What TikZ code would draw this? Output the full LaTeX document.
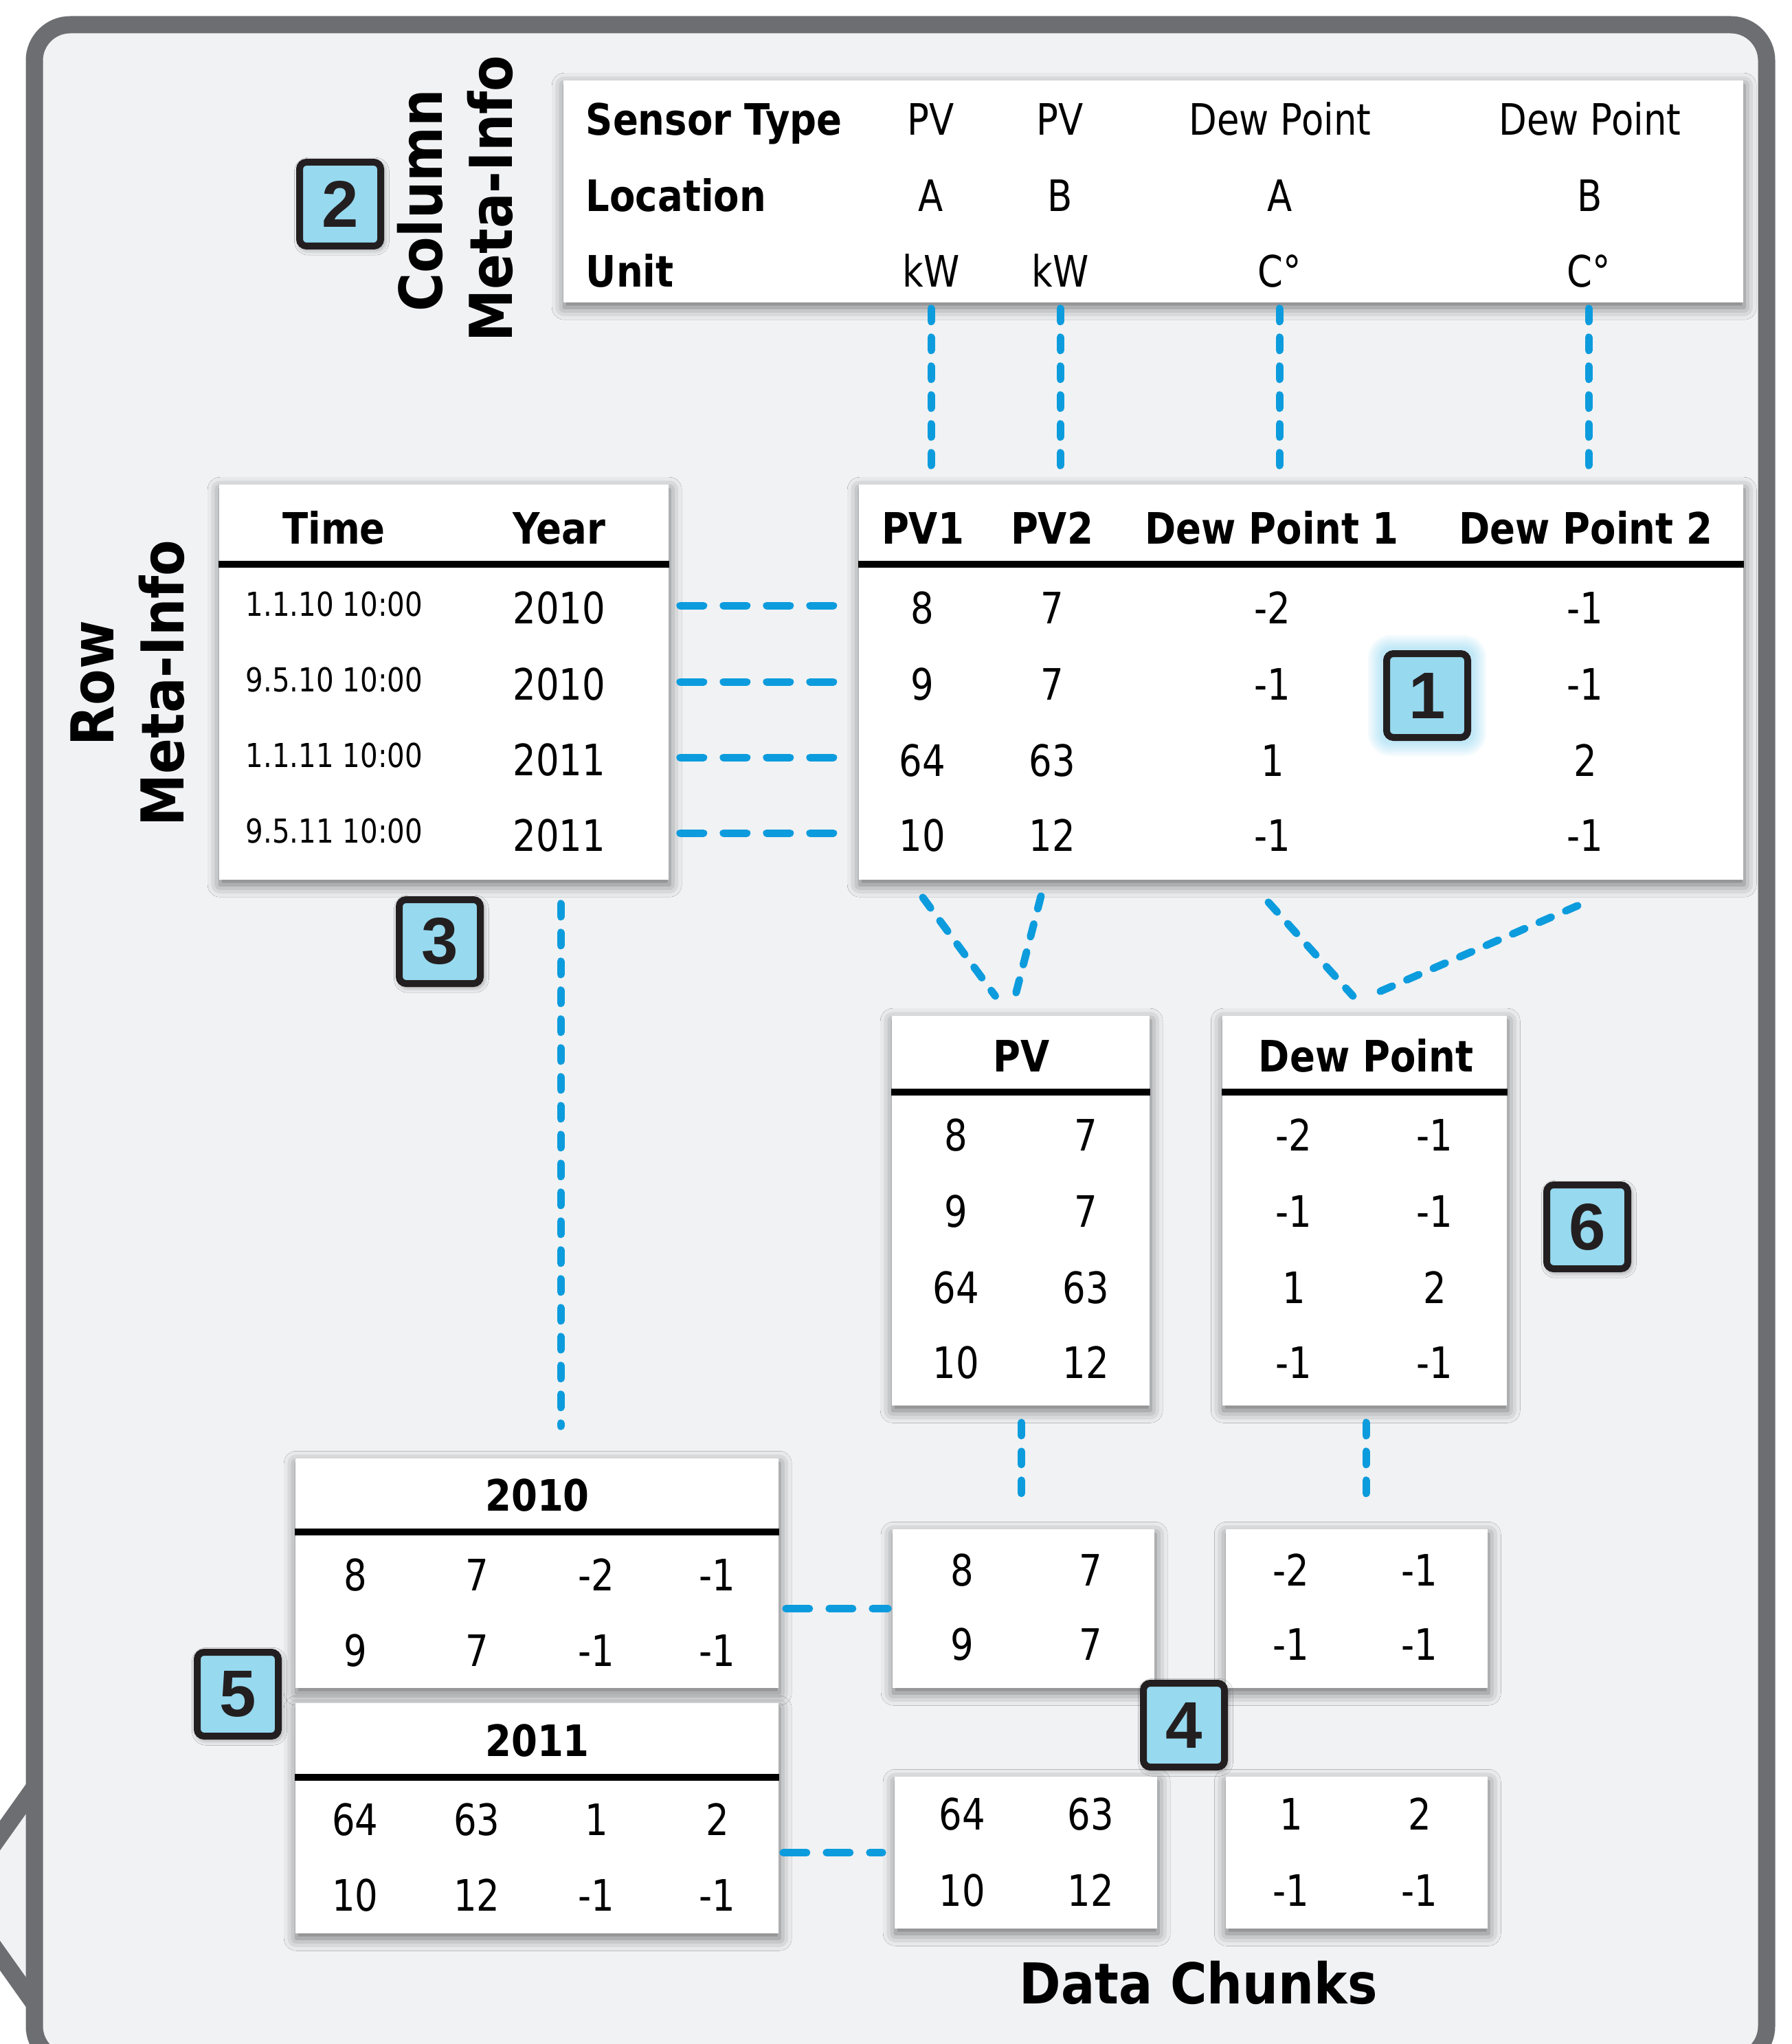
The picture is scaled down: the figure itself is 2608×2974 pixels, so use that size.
\documentclass[tikz,border=0pt]{standalone}
\usepackage{fontspec}
\newfontfamily\dvs{DejaVu Sans}[FakeStretch=0.84]
\newfontfamily\dvb{DejaVu Sans}[FakeStretch=0.865]
\newfontfamily\dvt{DejaVu Sans}[FakeStretch=0.89]
\newfontfamily\lbs{Liberation Sans}
\usetikzlibrary{calc,shadows.blur}
\definecolor{bgc}{HTML}{F1F2F4}
\definecolor{framec}{HTML}{6D6E71}
\definecolor{dashc}{HTML}{0C9CDD}
\definecolor{boxc}{HTML}{97D9EF}
\definecolor{boxd}{HTML}{231F20}
\definecolor{glowc}{HTML}{6FCDF0}
\tikzset{
  tbl/.style={fill=white, inner sep=0pt, blur shadow={shadow xshift=0.3pt, shadow yshift=-1.8pt, shadow blur radius=4.5pt, shadow opacity=55}},
  sz/.style 2 args={minimum width=#1*0.25pt, minimum height=#2*0.25pt},
  hline/.style={line width=2.5pt, black},
  dat/.style={anchor=base, inner sep=0pt, font=\dvs\fontsize{15.75}{19}\selectfont},
  hdr/.style={anchor=base, inner sep=0pt, font=\dvb\bfseries\fontsize{15.75}{19}\selectfont},
  tim/.style={anchor=base west, inner sep=0pt, font=\dvs\fontsize{12}{14}\selectfont},
  ttl/.style={anchor=base, inner sep=0pt, rotate=90, font=\dvt\bfseries\fontsize{21.5}{26}\selectfont},
  numbox/.style={rectangle, rounded corners=2.5pt, fill=boxc, draw=boxd, line width=2.5pt, minimum width=29.5pt, minimum height=30.5pt, inner sep=0pt, text=boxd, font=\lbs\bfseries\fontsize{24}{28}\selectfont},
  numsh/.style={numbox, blur shadow={shadow xshift=0.6pt, shadow yshift=-0.8pt, shadow blur radius=2.5pt, shadow opacity=55}},
  dlink/.style={draw=dashc, line width=2.75pt, line cap=round, dash pattern=on 4.75pt off 5.75pt},
  dlong/.style={dlink, dash pattern=on 8.5pt off 7.25pt},
}
\begin{document}
\begin{tikzpicture}[x=0.25pt, y=-0.25pt]
\useasboundingbox (0,0) rectangle (2608,2974);
\fill[white] (0,0) rectangle (2608,2974);
% frame (speech bubble)
\begin{scope}
\clip (0,0) rectangle (2608,2974);
\fill[bgc] (50,2600) -- (-40,2727) -- (-40,2789) -- (50,2916) -- cycle;
\draw[framec, line width=6.25pt] (63,2582) -- (-40,2727);
\draw[framec, line width=6.25pt] (63,2934) -- (-40,2789);
\draw[framec, line width=6.25pt, fill=bgc, rounded corners=13pt] (50,36) rectangle (2571,3000);
\end{scope}

% tables
\node[tbl, sz={1717}{323}] (colmeta) at (1678.5,278.5) {};
\node[tbl, sz={1287}{575}] (main) at (1893.5,992.5) {};
\node[tbl, sz={654}{575}] (rowmeta) at (646,992.5) {};
\node[tbl, sz={375}{567}] (pvc) at (1485.5,1761.5) {};
\node[tbl, sz={414}{567}] (dpc) at (1986,1761.5) {};
\node[tbl, sz={381}{231}] (pv10) at (1489.5,2340.5) {};
\node[tbl, sz={381}{231}] (dp10) at (1974.5,2340.5) {};
\node[tbl, sz={382}{221}] (pv11) at (1493,2695.5) {};
\node[tbl, sz={381}{221}] (dp11) at (1974.5,2695.5) {};
\node[tbl, sz={703}{334}] (y10) at (781.5,2289) {};
\node[tbl, sz={703}{335}] (y11) at (781.5,2645.5) {};

% header rules
\draw[hline] ($(main.north west)+(0,117)$) -- ($(main.north east)+(0,117)$);
\draw[hline] ($(rowmeta.north west)+(0,117)$) -- ($(rowmeta.north east)+(0,117)$);
\draw[hline] ($(pvc.north west)+(0,112)$) -- ($(pvc.north east)+(0,112)$);
\draw[hline] ($(dpc.north west)+(0,112)$) -- ($(dpc.north east)+(0,112)$);
\draw[hline] ($(y10.north west)+(0,108)$) -- ($(y10.north east)+(0,108)$);
\draw[hline] ($(y11.north west)+(0,109)$) -- ($(y11.north east)+(0,109)$);

% column meta-info
\node[hdr, anchor=base west] (lst) at (852,197) {Sensor Type};
\node[hdr, anchor=base west] (llo) at (852,308) {Location};
\node[hdr, anchor=base west] (lun) at (852,418) {Unit};
\node[dat] (st1) at (1355,197) {PV};
\node[dat] (st2) at (1543,197) {PV};
\node[dat] (st3) at (1863,197) {Dew Point};
\node[dat] (st4) at (2314,197) {Dew Point};
\node[dat] (lo1) at (1355,308) {A};
\node[dat] (lo2) at (1543,308) {B};
\node[dat] (lo3) at (1863,308) {A};
\node[dat] (lo4) at (2314,308) {B};
\node[dat] (u1) at (1355,418) {kW};
\node[dat] (u2) at (1543,418) {kW};
\node[dat] (u3) at (1862,418) {C°};
\node[dat] (u4) at (2312,418) {C°};

% main table
\node[hdr] (h1) at (1343,791) {PV1};
\node[hdr] (h2) at (1531,791) {PV2};
\node[hdr] (h3) at (1851,791) {Dew Point 1};
\node[hdr] (h4) at (2308,791) {Dew Point 2};
\foreach \r/\yy/\a/\b/\c/\d in {1/907/8/7/-2/-1, 2/1018/9/7/-1/-1, 3/1129/64/63/1/2, 4/1238/10/12/-1/-1}{
  \node[dat] (m\r-1) at (1342,\yy) {\a};
  \node[dat] (m\r-2) at (1531,\yy) {\b};
  \node[dat] (m\r-3) at (1852,\yy) {\c};
  \node[dat] (m\r-4) at (2307,\yy) {\d};
}

% row meta-info table
\node[hdr] (th) at (486,791) {Time};
\node[hdr] (yh) at (814,791) {Year};
\node[tim] (t1) at (357,896) {1.1.10 10:00};
\node[tim] (t2) at (357,1006) {9.5.10 10:00};
\node[tim] (t3) at (357,1116) {1.1.11 10:00};
\node[tim] (t4) at (357,1226) {9.5.11 10:00};
\node[dat] (yv1) at (814,907) {2010};
\node[dat] (yv2) at (814,1018) {2010};
\node[dat] (yv3) at (814,1128) {2011};
\node[dat] (yv4) at (814,1238) {2011};

% PV and Dew Point chunks
\node[hdr] (pvh) at (1487,1559) {PV};
\node[hdr] (dph) at (1988,1559) {Dew Point};
\foreach \r/\yy/\a/\b/\c/\d in {1/1674/8/7/-2/-1, 2/1785/9/7/-1/-1, 3/1896/64/63/1/2, 4/2005/10/12/-1/-1}{
  \node[dat] (p\r-1) at (1391,\yy) {\a};
  \node[dat] (p\r-2) at (1580,\yy) {\b};
  \node[dat] (d\r-1) at (1883,\yy) {\c};
  \node[dat] (d\r-2) at (2088,\yy) {\d};
}

% year tables
\node[hdr] (y10h) at (782,2198) {2010};
\node[hdr] (y11h) at (782,2555) {2011};
\foreach \r/\yy/\a/\b/\c/\d in {1/2314/8/7/-2/-1, 2/2424/9/7/-1/-1, 3/2670/64/63/1/2, 4/2780/10/12/-1/-1}{
  \node[dat] (yr\r-1) at (517,\yy) {\a};
  \node[dat] (yr\r-2) at (694,\yy) {\b};
  \node[dat] (yr\r-3) at (868,\yy) {\c};
  \node[dat] (yr\r-4) at (1044,\yy) {\d};
}

% data chunks
\foreach \r/\yy/\a/\b/\c/\d in {1/2307/8/7/-2/-1, 2/2415/9/7/-1/-1, 3/2662/64/63/1/2, 4/2773/10/12/-1/-1}{
  \node[dat] (c\r-1) at (1400,\yy) {\a};
  \node[dat] (c\r-2) at (1587,\yy) {\b};
  \node[dat] (c\r-3) at (1879,\yy) {\c};
  \node[dat] (c\r-4) at (2066,\yy) {\d};
}
\node[anchor=base, inner sep=0pt, font=\dvt\bfseries\fontsize{20.5}{24}\selectfont] (dch) at (1744,2915) {Data Chunks};

% rotated titles
\node[ttl] (rowt) at (165,994) {Row};
\node[ttl] (rowm) at (267,994) {Meta-Info};
\node[ttl] (colt) at (643,292) {Column};
\node[ttl] (colm) at (745,289) {Meta-Info};

% connectors
\foreach \i in {1,2,3,4}{
  \draw[dlink] ($(colmeta.south -| u\i)+(0,8)$) -- ($(main.north -| u\i)+(0,-27)$);
  \draw[dlong] ($(rowmeta.east |- yv\i)+(16,-3)$) -- ($(main.west |- yv\i)+(-20,-3)$);
}
\draw[dlink] ($(main.south -| h1)+(0,25)$) -- ($(pvc.north)+(-37,-28)$);
\draw[dlink] ($(main.south -| h2)+(-16,23)$) -- ($(pvc.north)+(-8,-28)$);
\draw[dlink] ($(main.south -| h3)+(-5,32)$) -- ($(dpc.north)+(-17,-28)$);
\draw[dlink] ($(main.south -| h4)+(-12,37)$) -- ($(dpc.north)+(14,-31)$);
\draw[dlink] ($(rowmeta.south -| yh)+(2,34)$) -- ($(y10.north -| yh)+(2,-46)$);
\draw[dlink] ($(pvc.south)+(1,24)$) -- ($(pv10.north -| pvc.south)+(1,-46)$);
\draw[dlink] ($(dpc.south)+(2,24)$) -- ($(dp10.north -| dpc.south)+(2,-46)$);
\draw[dlong] ($(y10.east |- pv10.center)+(10,0)$) -- ($(pv10.west)+(-6,0)$);
\draw[dlong] ($(y11.east |- pv11.center)+(6,0)$) -- ($(pv11.west)+(-17,0)$);

% numbered boxes
\coordinate (n1c) at (2077,1012);
\foreach \r in {3,6,...,21}{
  \fill[glowc, opacity=0.07, rounded corners=3pt+\r*0.25pt] ($(n1c)+(-65-\r,-67-\r)$) rectangle ($(n1c)+(65+\r,67+\r)$);
}
\node[numbox] (n1) at (n1c) {1};
\node[numsh] (n2) at (495,297) {2};
\node[numsh] (n3) at (640,1370) {3};
\node[numsh] (n4) at (1723,2510) {4};
\node[numsh] (n5) at (346,2465) {5};
\node[numsh] (n6) at (2310,1785) {6};
\end{tikzpicture}
\end{document}
